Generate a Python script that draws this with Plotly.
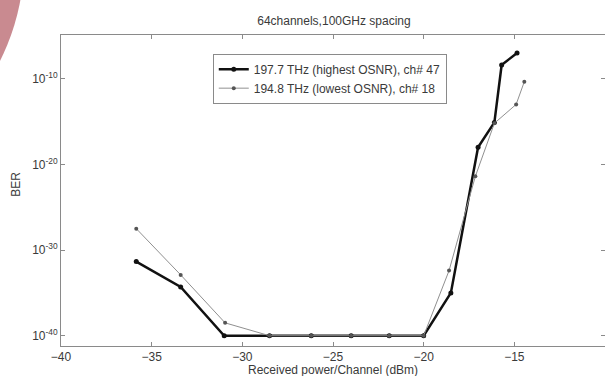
import plotly.graph_objects as go

# Data
x_hi = [-35.85, -33.4, -31.0, -28.5, -26.2, -24.0, -21.9, -20.0, -18.5, -17.0, -16.1, -15.7, -14.85]
ber_hi = [10**-31.35, 10**-34.3, 1e-40, 1e-40, 1e-40, 1e-40, 1e-40, 1e-40, 10**-35.0, 10**-18.0, 10**-15.1, 10**-8.4, 10**-7.0]

x_lo = [-35.85, -33.4, -30.95, -28.5, -26.2, -24.0, -21.9, -20.0, -18.6, -17.15, -16.1, -14.9, -14.45]
ber_lo = [10**-27.5, 10**-32.9, 10**-38.5, 1e-40, 1e-40, 1e-40, 1e-40, 1e-40, 10**-32.4, 10**-21.4, 10**-15.2, 10**-13.0, 10**-10.35]

name_hi = "197.7 THz (highest OSNR), ch# 47"
name_lo = "194.8 THz (lowest OSNR), ch# 18"

x_ticks = [-40, -35, -30, -25, -20, -15, -10]
y_ticks = [1e-10, 1e-20, 1e-30, 1e-40]
y_ticktext = ["10<sup>-10</sup>", "10<sup>-20</sup>", "10<sup>-30</sup>", "10<sup>-40</sup>"]

FONT = "Liberation Sans"
TXT = "#3a3a3a"

fig = go.Figure()
fig.add_trace(go.Scatter(x=x_hi, y=ber_hi, mode="lines+markers", name=name_hi,
                         line=dict(color="#111111", width=2.5),
                         marker=dict(color="#111111", size=5)))
fig.add_trace(go.Scatter(x=x_lo, y=ber_lo, mode="lines+markers", name=name_lo,
                         line=dict(color="#909090", width=1),
                         marker=dict(color="#555555", size=4)))

axis_common = dict(showgrid=False, zeroline=False, showline=True, linecolor="#8a8a8a",
                   linewidth=1, mirror="ticks", ticks="inside", ticklen=4,
                   tickcolor="#8a8a8a", tickfont=dict(family=FONT, size=12, color=TXT))

fig.update_xaxes(range=[-40, -10], tickvals=x_ticks, **axis_common)
fig.update_yaxes(type="log", range=[-41.2, -4.9], tickvals=y_ticks, ticktext=y_ticktext,
                 **axis_common)

fig.update_layout(
    width=605, height=376,
    margin=dict(l=61, r=0, t=35, b=30),
    plot_bgcolor="white", paper_bgcolor="white",
    font=dict(family=FONT, size=12, color=TXT),
    showlegend=True,
    legend=dict(x=0.279, y=0.94, xanchor="left", yanchor="top",
                bordercolor="#8a8a8a", borderwidth=1, bgcolor="white",
                font=dict(family=FONT, size=12, color=TXT),
                tracegroupgap=0, itemwidth=30),
    title=dict(text="64channels,100GHz spacing", x=0.552, xanchor="center",
               y=1 - 21 / 376, yanchor="middle",
               font=dict(family=FONT, size=12, color=TXT)),
    annotations=[
        dict(text="Received power/Channel (dBm)", xref="paper", yref="paper",
             x=0.5, y=-0.078, xanchor="center", yanchor="middle", showarrow=False,
             font=dict(family=FONT, size=12, color=TXT)),
        dict(text="BER", xref="paper", yref="paper", x=-0.082, y=0.52,
             xanchor="center", yanchor="middle", textangle=-90, showarrow=False,
             font=dict(family=FONT, size=12, color=TXT)),
    ],
    shapes=[
        dict(type="circle", xref="paper", yref="paper", xsizemode="pixel", ysizemode="pixel",
             xanchor=0, yanchor=1, x0=-485, x1=-37, y0=-149, y1=299,
             fillcolor="#c98a90", line=dict(width=0), layer="below"),
    ],
)

fig.write_html("out.html")
